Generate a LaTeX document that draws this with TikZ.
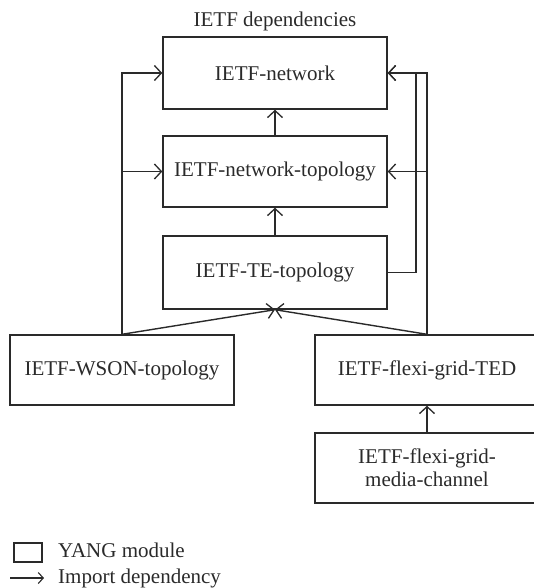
\documentclass[tikz,border=0pt]{standalone}
\usepackage{fontspec}
\setmainfont{Liberation Serif}
\usetikzlibrary{arrows.meta}
\definecolor{ink}{HTML}{2A2A2A}
\begin{document}
\begin{tikzpicture}[x=1pt,y=-1pt,
  box/.style={draw=ink,line width=1.4pt,rectangle,minimum width=224pt,minimum height=72pt,inner sep=0pt,text=ink,font=\fontsize{21}{23}\selectfont,align=center},
  dep/.style={draw=ink,line width=1.4pt,-{Straight Barb[length=7pt,width=15pt,line width=1.3pt]}},
  lbl/.style={text=ink,font=\fontsize{21}{23}\selectfont,inner sep=0pt}]
\useasboundingbox (0,0) rectangle (534,588);
\node[lbl,anchor=base] (title) at (275,27) {IETF dependencies};
\node[box] (net) at (275,73) {IETF-network};
\node[box,minimum height=71pt] (ntop) at (275,171.5) {IETF-network-topology};
\node[box,minimum height=73pt] (te) at (275,272.5) {IETF-TE-topology};
\node[box,minimum height=70pt] (wson) at (122,370) {IETF-WSON-topology};
\node[box,minimum height=70pt] (ted) at (427,370) {IETF-flexi-grid-TED};
\node[box,minimum height=70pt] (media) at (427,468) {IETF-flexi-grid-\\media-channel};
% vertical imports
\draw[dep] (ntop.north) -- (net.south);
\draw[dep] (te.north) -- (ntop.south);
\draw[dep] (media.north) -- (ted.south);
% to TE-topology
\draw[dep] (wson.north) -- (te.south);
\draw[dep] (ted.north) -- (te.south);
% left bus
\draw[dep] (wson.north) |- (net.west);
\coordinate (lb) at (wson.north |- ntop.west);
\draw[dep] (lb) -- (ntop.west);
% right bus
\draw[dep] (ted.north) |- (net.east);
\coordinate (rb) at (ted.north |- ntop.west);
\draw[dep] (rb) -- (ntop.east);
\coordinate (teR) at (416,272.5);
\coordinate (teT) at (416,73);
\draw[dep] (te.east) -- (teR) -- (teT) -- (net.east);
% legend
\node[draw=ink,line width=1.4pt,minimum width=28pt,minimum height=19pt,inner sep=0pt] (lgbox) at (28,552.5) {};
\node[lbl,anchor=base west] (lgmod) at (58,557) {YANG module};
\coordinate (lga) at (10,578);
\coordinate (lgb) at (44,578);
\draw[ink,line width=1.2pt,-{Straight Barb[length=5pt,width=11pt,line width=1.1pt]}] (lga) -- (lgb);
\node[lbl,anchor=base west] (lgimp) at (58,583) {Import dependency};
\end{tikzpicture}
\end{document}
